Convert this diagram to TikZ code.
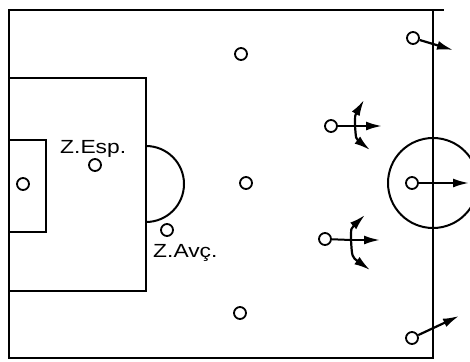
\documentclass[tikz,border=0pt]{standalone}
\usepackage{fontspec}
\setmainfont{Liberation Sans}
\usetikzlibrary{arrows.meta}
\begin{document}
\begin{tikzpicture}[x=1pt,y=-1pt,
  fieldline/.style={line width=2.4pt,line cap=rect},
  player/.style={circle,draw,line width=1.8pt,fill=white,minimum size=12pt,inner sep=0pt},
  move/.style={line width=2.2pt,-{Latex[length=16pt,width=9pt]}},
  lbl/.style={font=\fontsize{19}{19}\selectfont,anchor=base west,xscale=1.2,transform shape,inner sep=0pt}]
\useasboundingbox (0,0) rectangle (470,361);
\begin{scope}
\clip (0,0) rectangle (470,361);
% field
\draw[fieldline] (443,10) -- (9,10) -- (9,358) -- (433,358) -- (433,10);
\draw[fieldline] (9,78) -- (146,78) -- (146,291) -- (9,291);
\draw[fieldline] (9,140) -- (46,140) -- (46,232) -- (9,232);
\begin{scope}
\clip (146,100) rectangle (200,260);
\draw[line width=2pt] (146,184) circle[radius=38];
\end{scope}
\draw[line width=2pt] (433,183) circle[radius=45];
% players
\node[player] (gk) at (23,184) {};
\node[player] (esp) at (95,165) {};
\node[player] (avc) at (167,230) {};
\node[player] (p1) at (241,54) {};
\node[player] (p2) at (246,183) {};
\node[player] (p3) at (240,313) {};
\node[player] (tr) at (413,38) {};
\node[player] (um) at (331,126) {};
\node[player] (cm) at (412,183) {};
\node[player] (lm) at (325,239) {};
\node[player] (br) at (412,338) {};
% labels
\node[lbl] (lesp) at (60,153) {Z.Esp.};
\node[lbl] (lavc) at (153,257) {Z.Avç.};
% arrows
\coordinate (trE) at (453,50);
\coordinate (brE) at (459,316);
\coordinate (cmE) at (469,183);
\draw[move] (tr) -- (trE);
\draw[move] (br) -- (brE);
\draw[move] (cm) -- (cmE);
% upper mid
\coordinate (umX) at (355,126);
\coordinate (umE) at (382,126);
\coordinate (umU) at (364,100);
\coordinate (umD) at (370,150);
\draw[line width=2pt] (um) -- (umX);
\draw[move] (umX) -- (umE);
\draw[move] (umX) .. controls (355,115) .. (umU);
\draw[move] (umX) .. controls (356,139) .. (umD);
% lower mid
\coordinate (lmX) at (351,240);
\coordinate (lmE) at (380,240);
\coordinate (lmU) at (365,215);
\coordinate (lmD) at (370,270);
\draw[line width=2pt] (lm) -- (lmX);
\draw[move] (lmX) -- (lmE);
\draw[move] (lmX) .. controls (351,228) .. (lmU);
\draw[move] (lmX) .. controls (352,257) .. (lmD);
\end{scope}
\end{tikzpicture}
\end{document}
